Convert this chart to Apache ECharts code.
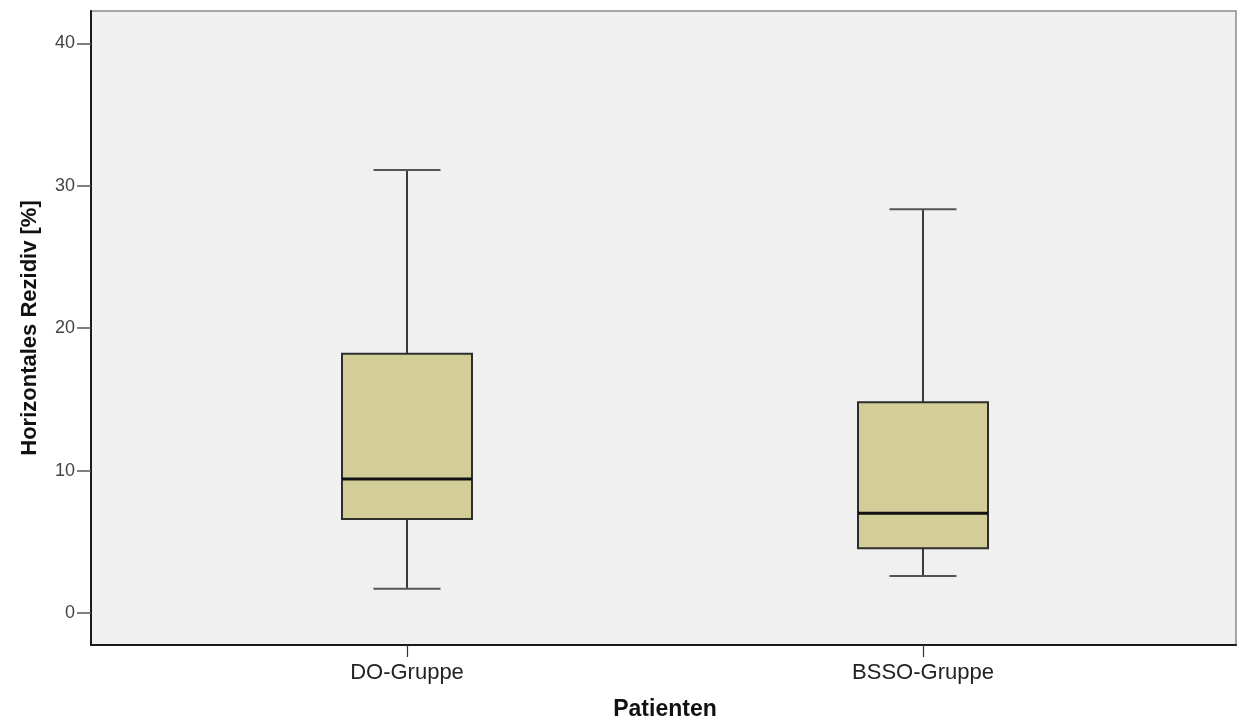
<!DOCTYPE html>
<html>
<head>
<meta charset="utf-8">
<script src="https://cdn.jsdelivr.net/npm/echarts@6/dist/echarts.min.js"></script>
<style>html,body{margin:0;padding:0;background:#fff}#c{width:1238px;height:718px}</style>
</head>
<body>
<div id="c"></div>
<script>
const categories = ['DO-Gruppe', 'BSSO-Gruppe'];
const whiskerMin = [1.7, 2.6];
const q1 = [6.6, 4.55];
const median = [9.4, 7.0];
const q3 = [18.2, 14.8];
const whiskerMax = [31.1, 28.35];
const yTicks = [0, 10, 20, 30, 40];

const FONT = "'Liberation Sans', Arial, sans-serif";
const boxData = categories.map((c, i) => [i, whiskerMin[i], q1[i], median[i], q3[i], whiskerMax[i]]);

const chart = echarts.init(document.getElementById('c'));
chart.setOption({
  animation: false,
  backgroundColor: '#ffffff',
  grid: [
    { left: 91, right: 2, top: 11, bottom: 73, outerBoundsMode: 'none', containLabel: false, show: true, backgroundColor: '#f0f0f0', borderColor: '#8a8a8a', borderWidth: 1.5 },
    { left: 149, right: 57, top: 11, bottom: 73, outerBoundsMode: 'none', containLabel: false }
  ],
  xAxis: [
    { gridIndex: 0, type: 'value', min: 0, max: 1, axisLabel: { show: false }, axisTick: { show: false }, splitLine: { show: false },
      axisLine: { show: true, onZero: false, lineStyle: { color: '#1a1a1a', width: 2 } } },
    { gridIndex: 1, type: 'category', data: categories, boundaryGap: true,
      axisLine: { show: false, onZero: false },
      axisTick: { show: true, alignWithLabel: true, length: 12, lineStyle: { color: '#333', width: 1.2 } },
      axisLabel: { margin: 17, fontSize: 22, color: '#222', fontFamily: FONT },
      name: 'Patienten', nameLocation: 'middle', nameGap: 53,
      nameTextStyle: { fontSize: 23, fontWeight: 'bold', color: '#111', fontFamily: FONT } }
  ],
  yAxis: [
    { gridIndex: 0, type: 'value', min: -2.25, max: 42.27,
      axisLine: { show: true, onZero: false, lineStyle: { color: '#1a1a1a', width: 2 } },
      axisTick: { show: true, length: 14, customValues: yTicks, lineStyle: { color: '#555', width: 1.5 } },
      axisLabel: { margin: 16, fontSize: 18, color: '#444', fontFamily: FONT, customValues: yTicks },
      splitLine: { show: false },
      name: 'Horizontales Rezidiv [%]', nameLocation: 'middle', nameGap: 50, nameRotate: 90,
      nameTextStyle: { fontSize: 22, fontWeight: 'bold', color: '#111', fontFamily: FONT } },
    { gridIndex: 1, type: 'value', min: -2.25, max: 42.27, show: false }
  ],
  series: [{
    type: 'custom',
    xAxisIndex: 1, yAxisIndex: 1,
    data: boxData,
    renderItem: function (params, api) {
      const x = api.value(0);
      const lo = api.coord([x, api.value(1)]);
      const b1 = api.coord([x, api.value(2)]);
      const md = api.coord([x, api.value(3)]);
      const b3 = api.coord([x, api.value(4)]);
      const hi = api.coord([x, api.value(5)]);
      const cx = lo[0];
      const bw = 130, cw = 67;
      const ws = { stroke: '#3a3a3a', lineWidth: 2 };
      return {
        type: 'group',
        children: [
          { type: 'line', shape: { x1: cx, y1: hi[1], x2: cx, y2: b3[1] }, style: ws },
          { type: 'line', shape: { x1: cx, y1: b1[1], x2: cx, y2: lo[1] }, style: ws },
          { type: 'line', shape: { x1: cx - cw / 2, y1: hi[1], x2: cx + cw / 2, y2: hi[1] }, style: { stroke: '#555', lineWidth: 2 } },
          { type: 'line', shape: { x1: cx - cw / 2, y1: lo[1], x2: cx + cw / 2, y2: lo[1] }, style: { stroke: '#555', lineWidth: 2 } },
          { type: 'rect', shape: { x: cx - bw / 2, y: b3[1], width: bw, height: b1[1] - b3[1] },
            style: { fill: '#d3ce98', stroke: '#2e2e2e', lineWidth: 2 } },
          { type: 'line', shape: { x1: cx - bw / 2, y1: md[1], x2: cx + bw / 2, y2: md[1] }, style: { stroke: '#111', lineWidth: 3 } }
        ]
      };
    }
  }]
});
</script>
</body>
</html>
